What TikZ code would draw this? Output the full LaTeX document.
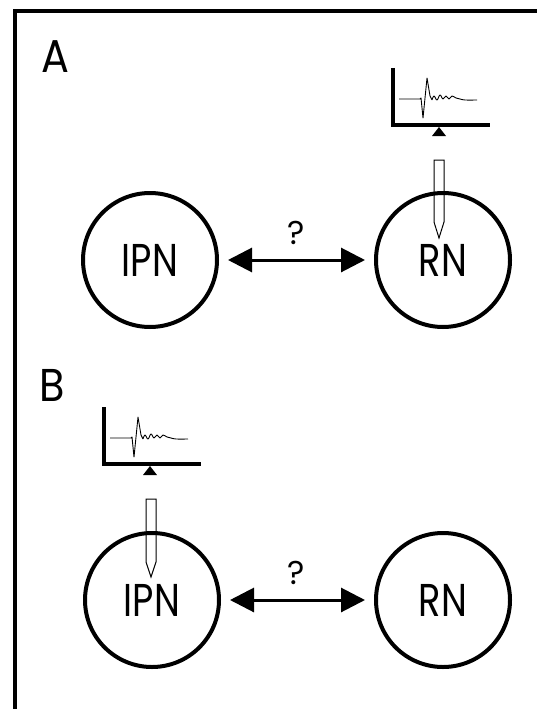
\documentclass[tikz,border=0pt]{standalone}
\usepackage{fontspec}
\setmainfont{Poppins}
\usetikzlibrary{arrows.meta}
\begin{document}
\begin{tikzpicture}[x=1pt,y=-1pt,
  nucleus/.style={circle,draw,line width=4pt,minimum size=134pt,inner sep=0pt,
    font=\fontsize{46}{48}\selectfont},
  link/.style={line width=3pt,{Triangle[length=24pt,width=24pt]}-{Triangle[length=24pt,width=24pt]},
    shorten <=9pt,shorten >=9pt},
  qmark/.style={font=\fontsize{33}{35}\selectfont,inner sep=0pt},
  panel/.style={font=\fontsize{46}{48}\selectfont,inner sep=0pt},
  axis/.style={line width=3.5pt},
  probe/.style={line width=1pt,line join=miter},
  pics/recording/.style={code={
    \draw[axis] (0,-57) -- (0,0) -- (97,0);
    \fill (46,2) -- (39,11) -- (53,11) -- cycle;
    \draw[line width=0.9pt,line join=round]
      (6,-26) -- (27,-26) -- (28,-27) -- (30,-7) -- (34,-47) -- (37,-29) -- (39,-25)
      plot[smooth,tension=0.6] coordinates {(39,-25) (41,-29) (44,-25) (47,-30) (50,-26) (53,-29) (56,-26) (59,-29) (63,-27) (67,-26) (72,-25) (84,-25)};
  }}
]
\useasboundingbox (0,0) rectangle (536,709);
% frame
\draw[line width=4pt] (15,730) -- (15,11) -- (560,11);

% panel A
\node[panel] (labA) at (55,57) {\scalebox{0.9}[1]{A}};
\node[nucleus] (ipnA) at (150,260) {\scalebox{0.8}[1]{IPN}};
\node[nucleus] (rnA) at (443,260) {\scalebox{0.8}[1]{RN}};
\draw[link] (ipnA) -- (rnA);
\node[qmark] (qA) at (296,233) {?};
\pic at (393,125) {recording};
\draw[probe] (434,160) -- (434,222) -- (439,238) -- (444,222) -- (444,160) -- cycle;

% panel B
\node[panel] (labB) at (52,385) {\scalebox{0.9}[1]{B}};
\node[nucleus] (ipnB) at (152,600) {\scalebox{0.8}[1]{IPN}};
\node[nucleus] (rnB) at (443,600) {\scalebox{0.8}[1]{RN}};
\draw[link] (ipnB) -- (rnB);
\node[qmark] (qB) at (296,573) {?};
\pic at (104,464) {recording};
\draw[probe] (146,499) -- (146,562) -- (151,577) -- (156,562) -- (156,499) -- cycle;
\end{tikzpicture}
\end{document}
